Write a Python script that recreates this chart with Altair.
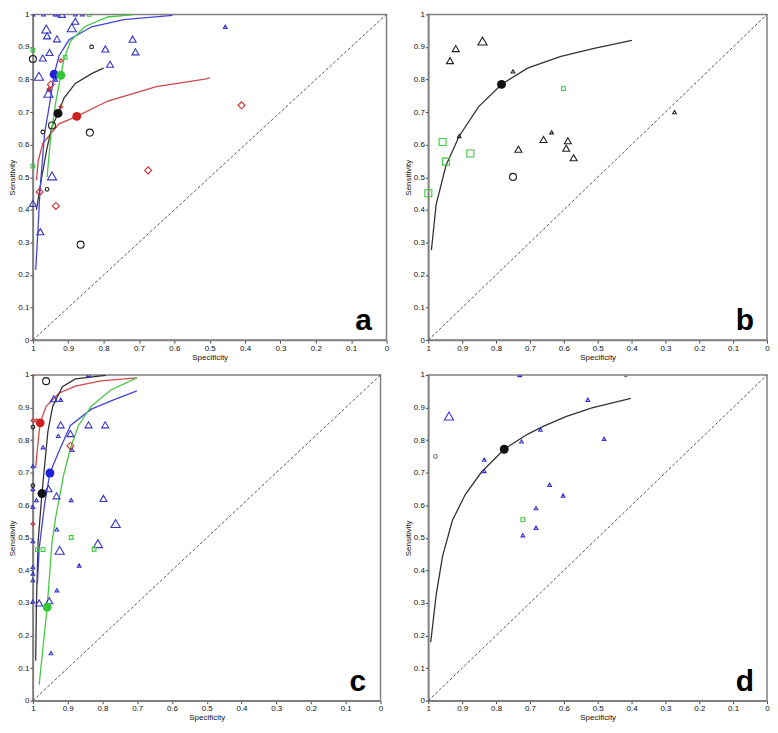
import altair as alt
import pandas as pd

# ---------------- Panel a ----------------
A_TRI_SPEC = [1.0, 0.97, 0.937, 0.93, 0.918, 0.88, 0.86, 0.962, 0.96, 0.88, 0.89, 0.932, 0.953, 0.972,
              0.983, 0.935, 0.956, 0.955, 0.946, 0.718, 0.71, 0.795, 0.782, 0.456, 1.0, 0.979]
A_TRI_SENS = [1, 1, 1, 1, 1, 1, 1, 0.955, 0.934, 0.979, 0.959, 0.925, 0.883, 0.866,
              0.81, 0.80, 0.758, 0.77, 0.504, 0.924, 0.885, 0.894, 0.847, 0.962, 0.42, 0.333]
A_TRI_W = [1, 1, 1, 1, 2, 1, 1, 3, 2, 2, 3, 2, 2, 2, 3, 1, 3, 1, 3, 2, 2, 2, 2, 1, 2, 2]
A_CIRC_SPEC = [0.834, 0.946, 0.972, 0.839, 0.96, 0.865, 1.0]
A_CIRC_SENS = [0.90, 0.659, 0.639, 0.637, 0.463, 0.293, 0.863]
A_CIRC_W = [1, 2, 1, 2, 1, 2, 2]
A_SQ_SPEC = [1.0, 1.0, 0.909, 0.84]
A_SQ_SENS = [0.534, 0.89, 0.868, 1.0]
A_SQ_W = [1, 1, 1, 1]
A_DIA_SPEC = [0.921, 0.949, 0.921, 0.674, 0.41, 0.981, 0.935, 0.955]
A_DIA_SENS = [0.858, 0.785, 0.716, 0.521, 0.721, 0.455, 0.412, 0.77]
A_DIA_W = [1, 2, 1, 2, 2, 2, 2, 1]
A_SUM_TEST = ["blue", "green", "black", "red"]
A_SUM_SPEC = [0.94, 0.921, 0.929, 0.876]
A_SUM_SENS = [0.816, 0.813, 0.696, 0.687]
A_RED_SPEC = [0.99, 0.985, 0.972, 0.926, 0.876, 0.788, 0.651, 0.514, 0.5]
A_RED_SENS = [0.49, 0.55, 0.604, 0.664, 0.687, 0.734, 0.778, 0.801, 0.805]
A_BLACK_SPEC = [0.99, 0.975, 0.96, 0.946, 0.929, 0.912, 0.88, 0.834, 0.8]
A_BLACK_SENS = [0.40, 0.50, 0.59, 0.655, 0.696, 0.743, 0.788, 0.818, 0.835]
A_BLUE_SPEC = [0.992, 0.986, 0.98, 0.967, 0.953, 0.94, 0.926, 0.898, 0.834, 0.743, 0.605]
A_BLUE_SENS = [0.216, 0.33, 0.46, 0.634, 0.723, 0.816, 0.873, 0.922, 0.962, 0.984, 0.997]
A_GREEN_SPEC = [0.96, 0.95, 0.935, 0.921, 0.912, 0.894, 0.853, 0.788, 0.715]
A_GREEN_SENS = [0.50, 0.62, 0.733, 0.813, 0.863, 0.917, 0.963, 0.992, 0.999]

# ---------------- Panel b ----------------
B_TRI_SPEC = [0.84, 0.919, 0.936, 0.75, 0.909, 0.734, 0.66, 0.636, 0.588, 0.593, 0.571, 0.273]
B_TRI_SENS = [0.918, 0.895, 0.858, 0.825, 0.626, 0.586, 0.616, 0.638, 0.612, 0.589, 0.56, 0.70]
B_TRI_W = [3, 2, 2, 1, 1, 2, 2, 1, 2, 2, 2, 1]
B_CIRC_SPEC = [0.75]
B_CIRC_SENS = [0.501]
B_CIRC_W = [2]
B_SQ_SPEC = [0.958, 0.948, 0.876, 1.0, 0.601]
B_SQ_SENS = [0.608, 0.548, 0.573, 0.451, 0.772]
B_SQ_W = [2, 2, 2, 2, 1]
B_SUM_SPEC = [0.784]
B_SUM_SENS = [0.785]
B_CURVE_SPEC = [0.991, 0.977, 0.948, 0.909, 0.852, 0.784, 0.707, 0.611, 0.514, 0.399]
B_CURVE_SENS = [0.276, 0.416, 0.536, 0.626, 0.716, 0.785, 0.835, 0.87, 0.895, 0.92]

# ---------------- Panel c ----------------
C_TRI_SPEC = [0.84, 0.94, 0.92, 0.92, 0.84, 0.792, 0.927, 0.892, 0.971, 0.887, 1.0, 0.953, 1.0, 0.99,
              0.955, 0.932, 0.89, 0.797, 1.0, 0.762, 0.931, 1.0, 0.923, 0.813, 1.0, 1.0, 1.0, 1.0,
              0.982, 0.953, 0.931, 0.867, 0.948]
C_TRI_SENS = [1.0, 0.927, 0.924, 0.847, 0.847, 0.847, 0.813, 0.82, 0.778, 0.77, 0.72, 0.70, 0.65, 0.616,
              0.651, 0.629, 0.616, 0.621, 0.595, 0.544, 0.526, 0.49, 0.462, 0.482, 0.41, 0.39, 0.37, 0.305,
              0.30, 0.307, 0.339, 0.415, 0.146]
C_TRI_W = [1, 2, 1, 2, 2, 2, 1, 2, 1, 1, 1, 1, 1, 1, 2, 2, 1, 2, 1, 3, 1, 1, 3, 3, 1, 1, 1, 1, 2, 2, 1, 1, 1]
C_CIRC_SPEC = [0.962, 1.0, 1.0]
C_CIRC_SENS = [0.981, 0.84, 0.66]
C_CIRC_W = [2, 1, 1]
C_DIA_SPEC = [1.0, 1.0, 0.99, 0.892, 1.0]
C_DIA_SENS = [1.0, 0.86, 0.86, 0.782, 0.543]
C_DIA_W = [1, 1, 1, 2, 1]
C_SQ_SPEC = [0.89, 0.987, 0.971, 0.824]
C_SQ_SENS = [0.501, 0.464, 0.464, 0.465]
C_SQ_W = [1, 1, 1, 1]
C_SUM_TEST = ["red", "blue", "black", "green"]
C_SUM_SPEC = [0.979, 0.951, 0.974, 0.959]
C_SUM_SENS = [0.853, 0.699, 0.636, 0.287]
C_RED_SPEC = [0.992, 0.985, 0.979, 0.962, 0.925, 0.878, 0.804, 0.701]
C_RED_SENS = [0.715, 0.795, 0.853, 0.904, 0.944, 0.966, 0.982, 0.991]
C_BLACK_SPEC = [0.992, 0.99, 0.985, 0.98, 0.974, 0.966, 0.957, 0.943, 0.915, 0.878, 0.79]
C_BLACK_SENS = [0.123, 0.29, 0.487, 0.556, 0.636, 0.725, 0.825, 0.904, 0.964, 0.988, 0.999]
C_BLUE_SPEC = [0.987, 0.982, 0.966, 0.951, 0.925, 0.892, 0.832, 0.766, 0.701]
C_BLUE_SENS = [0.36, 0.466, 0.606, 0.699, 0.766, 0.845, 0.895, 0.924, 0.951]
C_GREEN_SPEC = [0.982, 0.959, 0.945, 0.934, 0.911, 0.892, 0.869, 0.832, 0.776, 0.701]
C_GREEN_SENS = [0.049, 0.287, 0.487, 0.566, 0.696, 0.775, 0.845, 0.904, 0.954, 0.991]

# ---------------- Panel d ----------------
D_TRI_SPEC = [0.73, 0.939, 0.835, 0.835, 0.725, 0.669, 0.642, 0.602, 0.682, 0.682, 0.721, 0.529, 0.481]
D_TRI_SENS = [1.0, 0.874, 0.74, 0.705, 0.796, 0.832, 0.663, 0.63, 0.591, 0.531, 0.508, 0.924, 0.804]
D_TRI_W = [1, 3, 1, 1, 1, 1, 1, 1, 1, 1, 1, 1, 1]
D_CIRC_SPEC = [0.979, 0.417]
D_CIRC_SENS = [0.75, 1.0]
D_CIRC_W = [1, 1]
D_SQ_SPEC = [0.721]
D_SQ_SENS = [0.556]
D_SQ_W = [1]
D_SUM_SPEC = [0.776]
D_SUM_SENS = [0.772]
D_CURVE_SPEC = [0.993, 0.977, 0.958, 0.929, 0.891, 0.843, 0.776, 0.709, 0.661, 0.594, 0.517, 0.402]
D_CURVE_SENS = [0.18, 0.324, 0.444, 0.553, 0.633, 0.702, 0.772, 0.817, 0.842, 0.872, 0.899, 0.928]

TICKS = [0, 0.1, 0.2, 0.3, 0.4, 0.5, 0.6, 0.7, 0.8, 0.9, 1]
TICK_LABEL = "datum.value == 0 ? '0' : datum.value == 1 ? '1' : format(datum.value, '.1f')"

KIND_SHAPE = {"tri_blue": "triangle-up", "tri_black": "triangle-up", "sq_green": "square",
              "circ_black": "circle", "circ_gray": "circle", "dia_red": "diamond"}
KIND_COLOR = {"tri_blue": "#3535c8", "tri_black": "#222222", "sq_green": "#3cc83c",
              "circ_black": "#222222", "circ_gray": "#777777", "dia_red": "#cc3030"}
TEST_COLOR = {"blue": "#2222dd", "green": "#33c833", "black": "#111111", "red": "#cc2020"}
LINE_COLOR = {"blue": "#4444d8", "green": "#44c844", "black": "#333333", "red": "#d04848"}


def studies(groups):
    frames = []
    for kind, spec, sens, w in groups:
        frames.append(pd.DataFrame({"spec": spec, "sens": sens, "w": w, "kind": kind}))
    df = pd.concat(frames, ignore_index=True)
    df["shape"] = df["kind"].map(KIND_SHAPE)
    df["col"] = df["kind"].map(KIND_COLOR)
    return df


def curves(groups):
    frames = []
    for test, spec, sens in groups:
        frames.append(pd.DataFrame({"spec": spec, "sens": sens, "test": test,
                                    "i": list(range(len(spec)))}))
    df = pd.concat(frames, ignore_index=True)
    df["col"] = df["test"].map(LINE_COLOR)
    return df


def summary(tests, spec, sens):
    df = pd.DataFrame({"spec": spec, "sens": sens, "test": tests})
    df["col"] = df["test"].map(TEST_COLOR)
    return df


def panel(pts, crv, sm, letter, w, h):
    xs = alt.Scale(domain=[0, 1], reverse=True, nice=False, zero=False)
    ys = alt.Scale(domain=[0, 1], nice=False, zero=False)
    xax = alt.Axis(values=TICKS, labelExpr=TICK_LABEL, title="Specificity",
                   labelOverlap=False, labelFlush=False, labelBound=False)
    yax = alt.Axis(values=TICKS, labelExpr=TICK_LABEL, title="Sensitivity",
                   labelOverlap=False, labelFlush=False, labelBound=False)
    X = alt.X("spec:Q", scale=xs, axis=xax)
    Y = alt.Y("sens:Q", scale=ys, axis=yax)
    diag = alt.Chart(pd.DataFrame({"spec": [1, 0], "sens": [0, 1]})).mark_line(
        color="#555555", strokeDash=[3, 2], strokeWidth=1).encode(x=X, y=Y)
    lines = alt.Chart(crv).mark_line(strokeWidth=1.3, clip=True).encode(
        x=X, y=Y, color=alt.Color("col:N", scale=None), detail="test:N", order="i:Q")
    enc = dict(
        x=X, y=Y,
        shape=alt.Shape("shape:N", scale=None),
        color=alt.Color("col:N", scale=None),
        size=alt.Size("w:Q", scale=alt.Scale(domain=[1, 3], range=[14, 85]), legend=None))
    base = alt.Chart(pts)
    pts_in = base.mark_point(filled=False, strokeWidth=1.1, opacity=1).encode(
        **enc).transform_filter("datum.sens < 0.999")
    pts_top = base.mark_point(filled=False, strokeWidth=1.1, opacity=1, clip=True).encode(
        **enc).transform_filter("datum.sens >= 0.999")
    dots = alt.Chart(sm).mark_circle(size=80, opacity=1).encode(
        x=X, y=Y, color=alt.Color("col:N", scale=None))
    lab = alt.Chart(pd.DataFrame({"spec": [0.065], "sens": [0.03], "t": [letter]})).mark_text(
        fontSize=30, fontWeight="bold", font="Liberation Sans", align="center",
        baseline="alphabetic", color="#000").encode(x=X, y=Y, text="t:N")
    return alt.layer(diag, lines, pts_in, pts_top, dots, lab).properties(width=w, height=h)


H = 327
pa = panel(
    studies([("tri_blue", A_TRI_SPEC, A_TRI_SENS, A_TRI_W),
             ("circ_black", A_CIRC_SPEC, A_CIRC_SENS, A_CIRC_W),
             ("sq_green", A_SQ_SPEC, A_SQ_SENS, A_SQ_W),
             ("dia_red", A_DIA_SPEC, A_DIA_SENS, A_DIA_W)]),
    curves([("red", A_RED_SPEC, A_RED_SENS), ("black", A_BLACK_SPEC, A_BLACK_SENS),
            ("blue", A_BLUE_SPEC, A_BLUE_SENS), ("green", A_GREEN_SPEC, A_GREEN_SENS)]),
    summary(A_SUM_TEST, A_SUM_SPEC, A_SUM_SENS), "a", 355, H)

pb = panel(
    studies([("tri_black", B_TRI_SPEC, B_TRI_SENS, B_TRI_W),
             ("circ_black", B_CIRC_SPEC, B_CIRC_SENS, B_CIRC_W),
             ("sq_green", B_SQ_SPEC, B_SQ_SENS, B_SQ_W)]),
    curves([("black", B_CURVE_SPEC, B_CURVE_SENS)]),
    summary(["black"], B_SUM_SPEC, B_SUM_SENS), "b", 340, H)

pc = panel(
    studies([("tri_blue", C_TRI_SPEC, C_TRI_SENS, C_TRI_W),
             ("circ_black", C_CIRC_SPEC, C_CIRC_SENS, C_CIRC_W),
             ("dia_red", C_DIA_SPEC, C_DIA_SENS, C_DIA_W),
             ("sq_green", C_SQ_SPEC, C_SQ_SENS, C_SQ_W)]),
    curves([("red", C_RED_SPEC, C_RED_SENS), ("black", C_BLACK_SPEC, C_BLACK_SENS),
            ("blue", C_BLUE_SPEC, C_BLUE_SENS), ("green", C_GREEN_SPEC, C_GREEN_SENS)]),
    summary(C_SUM_TEST, C_SUM_SPEC, C_SUM_SENS), "c", 349, H)

pd_ = panel(
    studies([("tri_blue", D_TRI_SPEC, D_TRI_SENS, D_TRI_W),
             ("circ_gray", D_CIRC_SPEC, D_CIRC_SENS, D_CIRC_W),
             ("sq_green", D_SQ_SPEC, D_SQ_SENS, D_SQ_W)]),
    curves([("black", D_CURVE_SPEC, D_CURVE_SENS)]),
    summary(["black"], D_SUM_SPEC, D_SUM_SENS), "d", 340, H)

top = alt.hconcat(pa, pb, spacing=14)
bottom = alt.hconcat(pc, pd_, spacing=20)

chart = alt.vconcat(top, bottom, spacing=8).properties(
    padding={"left": 0, "top": 0, "right": 0, "bottom": 0}
).configure_view(
    stroke="#808080", strokeWidth=1.5
).configure_axis(
    grid=False, domainColor="#808080", domainWidth=1.5, tickColor="#444444", tickSize=3,
    labelFont="Liberation Sans", labelFontSize=8, labelColor="#111111",
    titleFont="Liberation Sans", titleFontSize=8, titleFontWeight="normal", titleColor="#111111",
    labelPadding=1, titlePadding=1, labelOverlap=False
)

chart.save("out.html", embed_options={"renderer": "svg", "actions": False})
